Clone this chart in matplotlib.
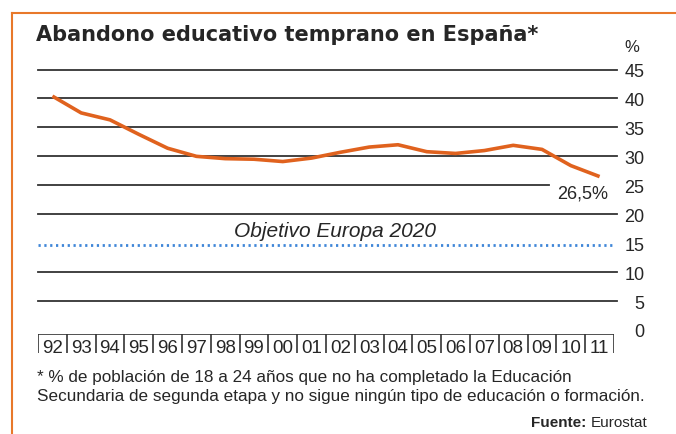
import matplotlib
matplotlib.use('Agg')
import matplotlib.pyplot as plt
from matplotlib.lines import Line2D

years = ['92', '93', '94', '95', '96', '97', '98', '99', '00', '01',
         '02', '03', '04', '05', '06', '07', '08', '09', '10', '11']
abandono = [40.4, 37.5, 36.3, 33.8, 31.4, 30.0, 29.6, 29.5, 29.1, 29.7,
            30.7, 31.6, 32.0, 30.8, 30.5, 31.0, 31.9, 31.2, 28.4, 26.5]
y_ticks = [0, 5, 10, 15, 20, 25, 30, 35, 40, 45]
objetivo = 15

ORANGE = '#E0621E'
GRID = '#333333'
TXT = '#262626'
FONT = ['Liberation Sans', 'DejaVu Sans']
plt.rcParams['font.family'] = FONT

W, H = 676, 435
fig = plt.figure(figsize=(W / 100, H / 100), dpi=100)

def fx(px):
    return px / W

def fy(px):
    return 1 - px / H

# orange frame (top + left)
fig.add_artist(Line2D([fx(12), 1], [fy(14), fy(14)], color='#E8782A', lw=1.5))
fig.add_artist(Line2D([fx(12), fx(12)], [fy(14), 0], color='#E8782A', lw=1.5))

# main plot area: x in cells 0..20, y 0..45
left, right = 38, 614
top, bottom = 70.5, 331
ax = fig.add_axes([fx(left), fy(bottom), fx(right - left), (bottom - top) / H])
ax.set_xlim(0, len(years))
ax.set_ylim(0, 45)
for s in ax.spines.values():
    s.set_visible(False)
ax.set_xticks([])
ax.yaxis.tick_right()
ax.set_yticks(y_ticks)
ax.set_yticklabels([str(v) for v in y_ticks])
ax.tick_params(axis='y', length=0, pad=22, labelsize=13, labelcolor=TXT)
for lbl in ax.get_yticklabels():
    lbl.set_horizontalalignment('right')

for v in y_ticks[1:]:
    if v == objetivo:
        continue
    xmax = 0.888 if v == 25 else 1.005
    ax.axhline(v, xmin=0, xmax=xmax, color=GRID, lw=1.3, clip_on=False, zorder=1)

ax.axhline(objetivo - 0.3, color='#3f86d8', lw=2, ls=(0, (0.8, 1.3)), zorder=1)
ax.text(10.3, objetivo + 0.5, 'Objetivo Europa 2020', ha='center', va='bottom',
        style='italic', fontsize=15, color=TXT)

xs = [i + 0.5 for i in range(len(years))]
ax.plot(xs, abandono, color=ORANGE, lw=2.6, solid_capstyle='butt', zorder=3)
ax.text(xs[-1] + 0.3, abandono[-1] - 1.3, '26,5%', ha='right', va='top',
        fontsize=13, color=TXT)

ax.text(1 + 10 / 576, 1.06, '%', transform=ax.transAxes, ha='left', va='bottom',
        fontsize=12, color=TXT)

# year boxes
axb = fig.add_axes([fx(left), fy(354), fx(right - left), 19 / H])
axb.set_xlim(0, len(years))
axb.set_ylim(0, 1)
axb.axis('off')
axb.axhline(1, color=GRID, lw=1.2)
axb.vlines(range(len(years) + 1), 0, 1, color=GRID, lw=1.2)
for i, yr in enumerate(years):
    axb.text(i + 0.5, 0.3, yr, ha='center', va='center', fontsize=13.5, color=TXT)

fig.text(fx(36), fy(25), 'Abandono educativo temprano en España*', ha='left',
         va='top', fontsize=15, fontweight='bold', color=TXT,
         family=['DejaVu Sans'])

fig.text(fx(37), fy(378), '* % de población de 18 a 24 años que no ha completado la Educación',
         ha='left', va='center', fontsize=12.3, color=TXT)
fig.text(fx(37), fy(397), 'Secundaria de segunda etapa y no sigue ningún tipo de educación o formación.',
         ha='left', va='center', fontsize=12.3, color=TXT)
t = fig.text(fx(647), fy(423), 'Eurostat', ha='right', va='center',
             fontsize=11, color=TXT)
fig.canvas.draw()
bb = t.get_window_extent()
fig.text(bb.x0 / W, fy(423), 'Fuente: ', ha='right', va='center',
         fontsize=11, fontweight='bold', color=TXT)

fig.savefig('out.png', dpi=100)
